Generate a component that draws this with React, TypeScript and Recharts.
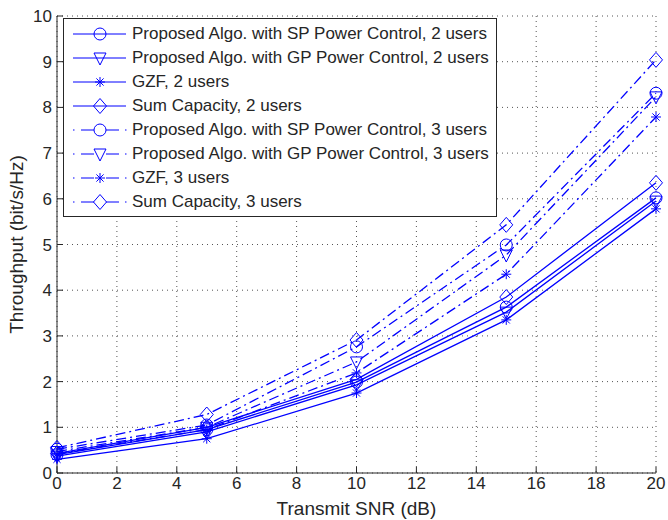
import React from "react";
import { CartesianGrid, Legend, LineChart, Line, XAxis, YAxis } from "recharts";

const snr = [0, 5, 10, 15, 20];
const sp2 = [0.4, 0.95, 1.99, 3.63, 6.02];
const gp2 = [0.37, 0.9, 1.93, 3.52, 5.95];
const gzf2 = [0.3, 0.75, 1.75, 3.35, 5.78];
const sum2 = [0.43, 1.0, 2.05, 3.85, 6.35];
const sp3 = [0.52, 1.05, 2.76, 4.99, 8.31];
const gp3 = [0.47, 1.0, 2.43, 4.77, 8.23];
const gzf3 = [0.42, 0.95, 2.19, 4.35, 7.79];
const sum3 = [0.55, 1.28, 2.91, 5.43, 9.04];

const xTicks = [0, 2, 4, 6, 8, 10, 12, 14, 16, 18, 20];
const yTicks = [0, 1, 2, 3, 4, 5, 6, 7, 8, 9, 10];

const data = snr.map((s, i) => ({
  snr: s,
  sp2: sp2[i],
  gp2: gp2[i],
  gzf2: gzf2[i],
  sum2: sum2[i],
  sp3: sp3[i],
  gp3: gp3[i],
  gzf3: gzf3[i],
  sum3: sum3[i],
}));

const BLUE = "#0000ff";
const AX = "#262626";
const FONT = "'Liberation Sans', Arial, Helvetica, sans-serif";
const DASH = "10 4 2 4";

type Kind = "circle" | "tri" | "star" | "diamond";

const series: { key: string; name: string; kind: Kind; dashed: boolean }[] = [
  { key: "sp2", name: "Proposed Algo. with SP Power Control, 2 users", kind: "circle", dashed: false },
  { key: "gp2", name: "Proposed Algo. with GP Power Control, 2 users", kind: "tri", dashed: false },
  { key: "gzf2", name: "GZF, 2 users", kind: "star", dashed: false },
  { key: "sum2", name: "Sum Capacity, 2 users", kind: "diamond", dashed: false },
  { key: "sp3", name: "Proposed Algo. with SP Power Control, 3 users", kind: "circle", dashed: true },
  { key: "gp3", name: "Proposed Algo. with GP Power Control, 3 users", kind: "tri", dashed: true },
  { key: "gzf3", name: "GZF, 3 users", kind: "star", dashed: true },
  { key: "sum3", name: "Sum Capacity, 3 users", kind: "diamond", dashed: true },
];

function Marker({ cx, cy, kind }: { cx: number; cy: number; kind: Kind }) {
  const p = { fill: "none", stroke: BLUE, strokeWidth: 1 };
  if (kind === "circle") return <circle cx={cx} cy={cy} r={6} {...p} />;
  if (kind === "tri")
    return <path d={`M${cx - 6},${cy - 5} L${cx + 6},${cy - 5} L${cx},${cy + 7} Z`} {...p} />;
  if (kind === "diamond")
    return <path d={`M${cx},${cy - 7.5} L${cx + 6.5},${cy} L${cx},${cy + 7.5} L${cx - 6.5},${cy} Z`} {...p} />;
  const s = 5;
  const d = 3.6;
  return (
    <path
      d={`M${cx - s},${cy} L${cx + s},${cy} M${cx},${cy - s} L${cx},${cy + s} M${cx - d},${cy - d} L${cx + d},${cy + d} M${cx - d},${cy + d} L${cx + d},${cy - d}`}
      {...p}
    />
  );
}

function LegendBox() {
  return (
    <div
      style={{
        border: `1px solid ${AX}`,
        background: "#fff",
        width: 432,
        padding: "3px 0 2px 0",
        fontFamily: FONT,
        fontSize: 17,
        color: AX,
      }}
    >
      {series.map((s) => (
        <div key={s.key} style={{ display: "flex", alignItems: "center", height: 24 }}>
          <svg width={68} height={24}>
            {s.dashed ? (
              <g stroke={BLUE} strokeWidth={1}>
                <line x1={9} x2={10.5} y1={12} y2={12} />
                <line x1={17} x2={30} y1={12} y2={12} />
                <line x1={42} x2={55} y1={12} y2={12} />
                <line x1={61} x2={62.5} y1={12} y2={12} />
              </g>
            ) : (
              <line x1={9} x2={62} y1={12} y2={12} stroke={BLUE} strokeWidth={1} />
            )}
            <Marker cx={36} cy={12} kind={s.kind} />
          </svg>
          <span style={{ whiteSpace: "nowrap" }}>{s.name}</span>
        </div>
      ))}
    </div>
  );
}

export default function App() {
  const tickStyle = { fill: AX, fontSize: 17, fontFamily: FONT };
  return (
    <div style={{ position: "absolute", left: 0, top: 0, background: "#fff" }}>
      <LineChart
        width={668}
        height={520}
        data={data}
        margin={{ top: 16, right: 12, bottom: 0, left: 0 }}
        style={{ fontFamily: FONT }}
      >
        <CartesianGrid stroke="#555" strokeDasharray="1 4" />
        <XAxis
          dataKey="snr"
          type="number"
          domain={[0, 20]}
          ticks={xTicks}
          height={47}
          tickSize={-6}
          tickMargin={10}
          tick={tickStyle}
          stroke={AX}
          label={{ value: "Transmit SNR (dB)", position: "center", dy: 12, fill: AX, fontSize: 19, fontFamily: FONT }}
        />
        <XAxis
          xAxisId="top"
          orientation="top"
          dataKey="snr"
          type="number"
          domain={[0, 20]}
          ticks={xTicks}
          height={0}
          tickSize={-6}
          tickFormatter={() => ""}
          stroke={AX}
        />
        <YAxis
          type="number"
          domain={[0, 10]}
          ticks={yTicks}
          width={57}
          tickSize={-6}
          tickMargin={11}
          tick={tickStyle}
          stroke={AX}
          label={{ value: "Throughput (bit/s/Hz)", angle: -90, position: "center", dx: -12, fill: AX, fontSize: 19, fontFamily: FONT }}
        />
        <YAxis
          yAxisId="right"
          orientation="right"
          type="number"
          domain={[0, 10]}
          ticks={yTicks}
          width={0}
          tickSize={-6}
          tickFormatter={() => ""}
          stroke={AX}
        />
        {series.map((s) => (
          <Line
            key={s.key}
            dataKey={s.key}
            name={s.name}
            type="linear"
            stroke={BLUE}
            strokeWidth={1.3}
            strokeDasharray={s.dashed ? DASH : undefined}
            isAnimationActive={false}
            dot={(props: any) => (
              <Marker key={`${s.key}-${props.index}`} cx={props.cx} cy={props.cy} kind={s.kind} />
            )}
            activeDot={false}
          />
        ))}
        <Legend
          layout="vertical"
          align="center"
          verticalAlign="middle"
          wrapperStyle={{ left: 63, top: 18, width: "auto", height: "auto" }}
          content={() => <LegendBox />}
        />
      </LineChart>
    </div>
  );
}
